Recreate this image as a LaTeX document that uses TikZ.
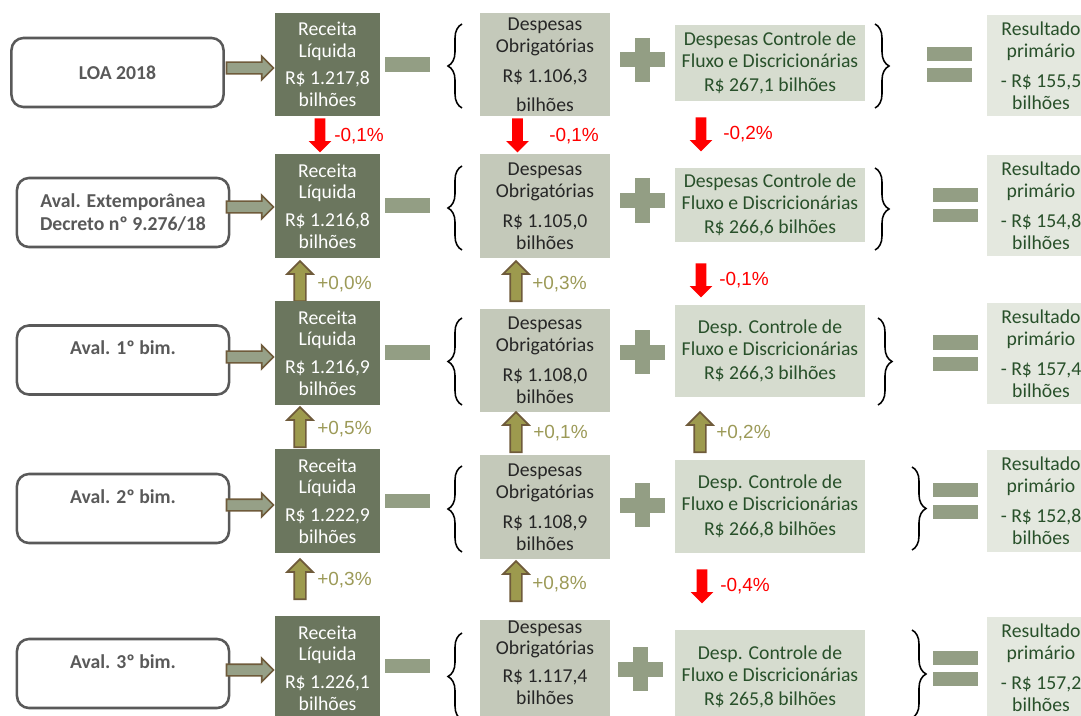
\documentclass[tikz,border=0pt]{standalone}
\usepackage{fontspec}
\setmainfont{Carlito}
\newfontfamily\pctfont{Liberation Sans}
\usetikzlibrary{shapes.arrows,decorations.pathreplacing,calc,positioning}

\definecolor{recfill}{HTML}{6B765E}
\definecolor{despfill}{HTML}{C4C9BA}
\definecolor{ctrlfill}{HTML}{D6DCCF}
\definecolor{resfill}{HTML}{E4E8DF}
\definecolor{opfill}{HTML}{939E84}
\definecolor{greentext}{HTML}{28502A}
\definecolor{avalgray}{HTML}{595959}
\definecolor{brownline}{HTML}{6F5B3B}
\definecolor{olivefill}{HTML}{9D9A4E}
\definecolor{posgreen}{HTML}{9C9A58}
\definecolor{arrowfill}{HTML}{96A087}

\begin{document}
\begin{tikzpicture}[x=0.025cm,y=-0.025cm,
    every node/.style={font=\fontsize{14}{15.5}\selectfont, inner sep=0pt, align=center},
    aval/.style={draw=avalgray, line width=1.8pt, rounded corners=0.3cm, minimum width=5.3cm, minimum height=1.725cm, text=avalgray, font=\fontsize{14}{17}\selectfont\bfseries},
    receita/.style={fill=recfill, text=white, minimum width=2.625cm, minimum height=2.575cm},
    obrig/.style={fill=despfill, text=black!85, minimum width=3.25cm, minimum height=2.575cm},
    controle/.style={fill=ctrlfill, text=greentext, minimum width=4.75cm, minimum height=1.9cm},
    resultado/.style={fill=resfill, text=greentext, minimum width=2.7cm, minimum height=2.525cm},
    harrow/.style={single arrow, draw=brownline, fill=arrowfill, line width=1.2pt, single arrow head extend=0.15cm, minimum height=1.175cm, anchor=tip},
    uparrow/.style={single arrow, shape border rotate=90, draw=brownline, fill=olivefill, line width=1.2pt, single arrow head extend=0.175cm, minimum height=1cm, anchor=tail},
    downarrow/.style={single arrow, shape border rotate=270, fill=red, single arrow head extend=0.15cm, minimum height=0.85cm, anchor=tail},
    neglabel/.style={font=\pctfont\fontsize{13.5}{15}\selectfont, text=red, anchor=west},
    poslabel/.style={font=\pctfont\fontsize{13.5}{15}\selectfont, text=posgreen, anchor=west},
    curly/.style={decorate, decoration={brace, amplitude=0.35cm}, line width=1.1pt},
    op/.style={fill=opfill}
  ]
  \useasboundingbox (0,0) rectangle (1081,716);

  % LOA 2018
  \node[aval] (aval1) at (117.5,72.5) {LOA 2018};
  \node[receita] (rec1) at (327.5,64.5) {Receita\\Líquida\\[4pt]R\$ 1.217,8\\bilhões};
  \node[obrig] (obr1) at (545,64.5) {Despesas\\Obrigatórias\\[6pt]R\$ 1.106,3\\[5pt]bilhões};
  \node[controle] (ctl1) at (770,63) {Despesas Controle de\\Fluxo e Discricionárias\\[2pt]R\$ 267,1 bilhões};
  \node[resultado] (res1) at (1041,65.5) {Resultado\\primário\\[6pt]- R\$ 155,5\\bilhões};
  \node[harrow] (h1) at ($(rec1.west)+(0,3.5)$) {\rule{0pt}{0.25cm}};
  \fill[op] (385,57) rectangle (430,72);
  \fill[op] (620,52.5) rectangle (665,67.5);
  \fill[op] (634.5,38) rectangle (649.5,82);
  \draw[curly] (462,108) -- (462,24);
  \draw[curly] (875,24) -- (875,108);
  \fill[op] (927,47) rectangle (972,61);
  \fill[op] (927,68) rectangle (972,82);

  \node[downarrow] (d1) at (320,118) {\rule{0.25cm}{0pt}};
  \node[neglabel] at (334,136) {-0,1\%};
  \node[downarrow] (d2) at (517.5,118) {\rule{0.25cm}{0pt}};
  \node[neglabel] at (549,136) {-0,1\%};
  \node[downarrow] (d3) at (701,117) {\rule{0.25cm}{0pt}};
  \node[neglabel] at (723,134) {-0,2\%};

  % Aval. Extemporanea
  \node[aval] (aval2) at (123,212.5) {Aval. Extemporânea\\Decreto nº 9.276/18};
  \node[receita] (rec2) at (327.5,206) {Receita\\Líquida\\[4pt]R\$ 1.216,8\\bilhões};
  \node[obrig] (obr2) at (545,206) {Despesas\\Obrigatórias\\[6pt]R\$ 1.105,0\\bilhões};
  \node[controle, minimum height=1.85cm] (ctl2) at (770,205) {Despesas Controle de\\Fluxo e Discricionárias\\[2pt]R\$ 266,6 bilhões};
  \node[resultado] (res2) at (1041,205.5) {Resultado\\primário\\[6pt]- R\$ 154,8\\bilhões};
  \node[harrow] (h2) at ($(rec2.west)+(0,1)$) {\rule{0pt}{0.25cm}};
  \fill[op] (385,198) rectangle (430,213);
  \fill[op] (620,193) rectangle (665,208);
  \fill[op] (634.5,178.5) rectangle (649.5,222.5);
  \draw[curly] (462,250) -- (462,166);
  \draw[curly] (875,168) -- (875,250);
  \fill[op] (933,188) rectangle (978,202);
  \fill[op] (933,209) rectangle (978,222);

  \node[uparrow] (u1) at (300,302) {\rule{0.25cm}{0pt}};
  \node[poslabel] at (317,284) {+0,0\%};
  \node[uparrow] (u2) at (516,302) {\rule{0.25cm}{0pt}};
  \node[poslabel] at (532,284) {+0,3\%};
  \node[downarrow] (d4) at (701,263) {\rule{0.25cm}{0pt}};
  \node[neglabel] at (719,280) {-0,1\%};

  % Aval. 1o bim.
  \node[aval] (aval3) at (123,360) {Aval. 1º bim.\\~};
  \node[receita] (rec3) at (327.5,353) {Receita\\Líquida\\[4pt]R\$ 1.216,9\\bilhões};
  \node[obrig] (obr3) at (545,360.5) {Despesas\\Obrigatórias\\[6pt]R\$ 1.108,0\\bilhões};
  \node[controle, minimum height=2.3cm] (ctl3) at (770,351) {Desp. Controle de\\Fluxo e Discricionárias\\[2pt]R\$ 266,3 bilhões};
  \node[resultado] (res3) at (1041,353.5) {Resultado\\primário\\[6pt]- R\$ 157,4\\bilhões};
  \node[harrow] (h3) at ($(rec3.west)+(0,4)$) {\rule{0pt}{0.25cm}};
  \fill[op] (385,345) rectangle (430,360);
  \fill[op] (620,344.5) rectangle (665,359.5);
  \fill[op] (634.5,330) rectangle (649.5,374);
  \draw[curly] (462,405) -- (462,318);
  \draw[curly] (878,318) -- (878,405);
  \fill[op] (933,335) rectangle (978,350);
  \fill[op] (933,357) rectangle (978,371);

  \node[uparrow] (u3) at (300,448) {\rule{0.25cm}{0pt}};
  \node[poslabel] at (317,429) {+0,5\%};
  \node[uparrow] (u4) at (516,453) {\rule{0.25cm}{0pt}};
  \node[poslabel] at (533,433) {+0,1\%};
  \node[uparrow] (u5) at (700,453) {\rule{0.25cm}{0pt}};
  \node[poslabel] at (716,433) {+0,2\%};

  % Aval. 2o bim.
  \node[aval] (aval4) at (123,508.5) {Aval. 2º bim.\\~};
  \node[receita] (rec4) at (327.5,501) {Receita\\Líquida\\[4pt]R\$ 1.222,9\\bilhões};
  \node[obrig] (obr4) at (545,507) {Despesas\\Obrigatórias\\[6pt]R\$ 1.108,9\\bilhões};
  \node[controle, minimum height=2.325cm] (ctl4) at (770,506.5) {Desp. Controle de\\Fluxo e Discricionárias\\[2pt]R\$ 266,8 bilhões};
  \node[resultado] (res4) at (1041,501) {Resultado\\primário\\[6pt]- R\$ 152,8\\bilhões};
  \node[harrow] (h4) at ($(rec4.west)+(0,4)$) {\rule{0pt}{0.25cm}};
  \fill[op] (385,494) rectangle (430,508);
  \fill[op] (620,497.5) rectangle (665,512.5);
  \fill[op] (634.5,483) rectangle (649.5,527);
  \draw[curly] (462,552) -- (462,466);
  \draw[curly] (912,467) -- (912,550);
  \fill[op] (933,483) rectangle (978,497);
  \fill[op] (933,505) rectangle (978,519);

  \node[uparrow] (u6) at (300,600) {\rule{0.25cm}{0pt}};
  \node[poslabel] at (317,580) {+0,3\%};
  \node[uparrow] (u7) at (516,602) {\rule{0.25cm}{0pt}};
  \node[poslabel] at (532,584) {+0,8\%};
  \node[downarrow] (d5) at (702,569) {\rule{0.25cm}{0pt}};
  \node[neglabel] at (720,586) {-0,4\%};

  % Aval. 3o bim.
  \node[aval] (aval5) at (123,673.5) {Aval. 3º bim.\\~};
  \node[receita] (rec5) at (327.5,668) {Receita\\Líquida\\[4pt]R\$ 1.226,1\\bilhões};
  \node[obrig] (obr5) at (545,676) {Despesas\\Obrigatórias\\[4pt]R\$ 1.117,4\\bilhões\\[4pt]~};
  \node[controle, minimum height=2.325cm] (ctl5) at (770,677) {Desp. Controle de\\Fluxo e Discricionárias\\[2pt]R\$ 265,8 bilhões};
  \node[resultado] (res5) at (1041,667.5) {Resultado\\primário\\[6pt]- R\$ 157,2\\bilhões};
  \node[harrow] (h5) at ($(rec5.west)+(0,2)$) {\rule{0pt}{0.25cm}};
  \fill[op] (385,659) rectangle (430,673);
  \fill[op] (618,661.5) rectangle (663,676.5);
  \fill[op] (632.5,647) rectangle (647.5,691);
  \draw[curly] (462,720) -- (462,633);
  \draw[curly] (912,630) -- (912,718);
  \fill[op] (933,651) rectangle (978,665);
  \fill[op] (933,672) rectangle (978,686);
\end{tikzpicture}
\end{document}
